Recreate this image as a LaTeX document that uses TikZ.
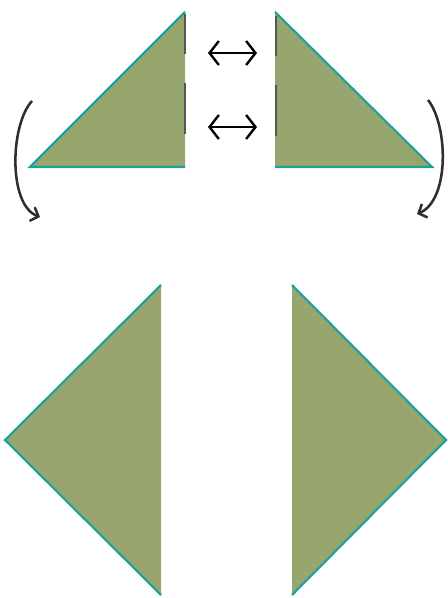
\documentclass[tikz,border=0pt]{standalone}
\usetikzlibrary{arrows.meta}
\definecolor{olivefill}{HTML}{97A56F}
\definecolor{tealedge}{HTML}{1AA39B}
\definecolor{dashgray}{HTML}{55584F}
\definecolor{arrowgray}{HTML}{2E2E2E}
\tikzset{
  tri/.style={fill=olivefill},
  edge/.style={draw=tealedge, line width=1.6pt, line join=miter},
  cut/.style={draw=dashgray, line width=1.3pt, dash pattern=on 30pt off 22pt on 38pt off 40pt},
  swap/.style={draw=black, line width=1.8pt, {Straight Barb[length=7pt,width=18pt]}-{Straight Barb[length=7pt,width=18pt]}},
  turn/.style={draw=arrowgray, line width=1.9pt, -{Straight Barb[length=5pt,width=11pt]}}
}
\begin{document}
\begin{tikzpicture}[x=0.75pt,y=-0.75pt]
\useasboundingbox (0,0) rectangle (448,598);
% top-left triangle
\fill[tri] (30,167) -- (185,12) -- (185,167) -- cycle;
\draw[edge] (185,12) -- (30,167) -- (185,167);
\draw[cut] (185,14) -- (185,167);
% top-right triangle
\fill[tri] (275,12) -- (275,167) -- (432,167) -- cycle;
\draw[edge] (275,12) -- (432,167) -- (275,167);
\draw[cut] (276,16) -- (276,167);
% swap arrows
\coordinate (s1a) at (208,53); \coordinate (s1b) at (257,53);
\coordinate (s2a) at (208,127); \coordinate (s2b) at (257,127);
\draw[swap] (s1a) -- (s1b);
\draw[swap] (s2a) -- (s2b);
% turning arrows
\coordinate (la) at (32,101); \coordinate (lb) at (40,217);
\coordinate (ra) at (428,100); \coordinate (rb) at (417,214);
\draw[turn] (la) .. controls (10,125) and (8,205) .. (lb);
\draw[turn] (ra) .. controls (448,125) and (450,200) .. (rb);
% bottom-left triangle
\fill[tri] (5,440) -- (161,285) -- (161,595) -- cycle;
\draw[edge] (161,285) -- (5,440) -- (161,595);
% bottom-right triangle
\fill[tri] (292,285) -- (446,440) -- (292,595) -- cycle;
\draw[edge] (292,285) -- (446,440) -- (292,595);
\end{tikzpicture}
\end{document}
